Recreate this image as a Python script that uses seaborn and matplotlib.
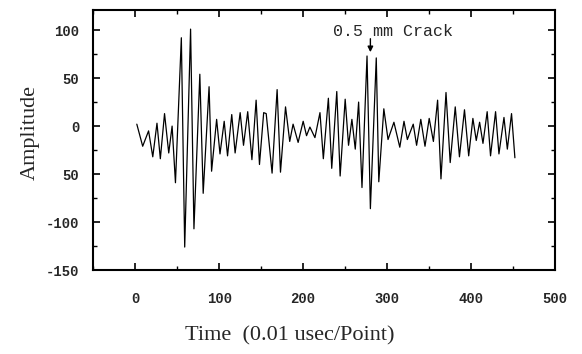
import matplotlib
matplotlib.use("Agg")
import matplotlib.pyplot as plt
import pandas as pd
import seaborn as sns
from matplotlib.ticker import MultipleLocator

# Peaks and troughs of the waveform
time_points = [2, 9, 16, 21, 26, 30, 35, 40, 44, 48,
               55, 59, 66, 70, 77, 81, 88, 91, 97, 101,
               106, 110, 115, 119, 125, 129, 134, 139, 144, 148,
               153, 156, 163, 169, 173, 179, 184, 188, 194, 200,
               204, 208, 214, 220, 224, 230, 234, 240, 244, 250,
               254, 258, 262, 266, 270, 276, 280, 287, 290, 296,
               301, 308, 315, 320, 324, 331, 335, 340, 345, 350,
               355, 360, 364, 370, 375, 381, 386, 392, 397, 402,
               406, 410, 414, 419, 423, 429, 433, 439, 443, 448,
               452]
amplitude = [2, -21, -5, -32, 3, -34, 13, -28, 0, -59,
             92, -126, 101, -107, 54, -70, 41, -47, 7, -29,
             5, -31, 12, -28, 14, -20, 15, -35, 27, -40,
             14, 13, -49, 38, -48, 20, -16, 2, -17, 5,
             -10, -1, -12, 14, -34, 29, -44, 36, -52, 28,
             -20, 7, -24, 25, -64, 73, -86, 71, -58, 18,
             -14, 4, -22, 5, -14, 2, -20, 7, -21, 8,
             -16, 27, -55, 35, -38, 20, -32, 17, -31, 8,
             -15, 4, -18, 15, -31, 15, -29, 9, -24, 13,
             -33]

x_ticks = [0, 100, 200, 300, 400, 500]
y_ticks = [100, 50, 0, -50, -100, -150]
y_tick_labels = ["100", "50", "0", "50", "-100", "-150"]

df = pd.DataFrame({"time": time_points, "amplitude": amplitude})

sns.set_style("ticks")
plt.rcParams["font.family"] = ["DejaVu Sans"]

fig = plt.figure(figsize=(5.82, 3.54), dpi=100)
ax = fig.add_axes([0.160, 0.237, 0.794, 0.735])

sns.lineplot(data=df, x="time", y="amplitude", ax=ax, color="black",
             linewidth=0.9, sort=False)

ax.set_xlim(-50, 500)
ax.set_ylim(-150, 121)

ax.set_xticks(x_ticks)
ax.set_xticklabels([str(t) for t in x_ticks])
ax.xaxis.set_minor_locator(MultipleLocator(50))
ax.set_yticks(y_ticks)
ax.set_yticklabels(y_tick_labels)
ax.yaxis.set_minor_locator(MultipleLocator(25))

ax.tick_params(axis="both", which="both", direction="in", top=True, right=True,
               color="black")
ax.tick_params(axis="both", which="major", length=5, width=1.2)
ax.tick_params(axis="both", which="minor", length=3, width=1.0)
ax.tick_params(axis="x", which="major", pad=16)
ax.tick_params(axis="y", which="major", pad=10)
for lab in ax.get_xticklabels() + ax.get_yticklabels():
    lab.set_family("Liberation Mono")
    lab.set_fontweight("bold")
    lab.set_fontsize(10)

for spine in ax.spines.values():
    spine.set_linewidth(1.5)
    spine.set_color("black")

ax.set_xlabel("Time  (0.01 usec/Point)", family="Liberation Serif", fontsize=16)
ax.set_ylabel("Amplitude", family="Liberation Serif", fontsize=16)
ax.xaxis.set_label_coords(0.426, -0.215)
ax.yaxis.set_label_coords(-0.115, 0.527)

# label and arrow pointing down at the crack echo
ax.text(307, 98, "0.5 mm Crack", ha="center", va="center",
        family="Liberation Mono", fontsize=12)
ax.annotate("", xy=(280, 77), xytext=(280, 91),
            arrowprops=dict(arrowstyle="-|>", color="black", lw=1.0,
                            mutation_scale=8, shrinkA=0, shrinkB=0))

plt.savefig("out.png", dpi=100)
plt.close()
